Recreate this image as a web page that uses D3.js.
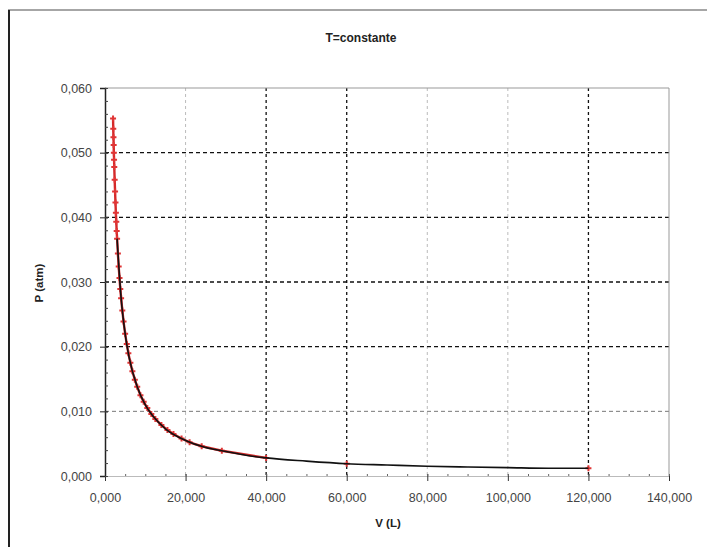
<html>
<script src="https://d3js.org/d3.v7.min.js"></script>
<head>
<style>
  body { margin: 0; background: #fff; }
  text { font-family: "Liberation Sans", Arial, sans-serif; fill: #333; }
</style>
</head>
<body>
<svg id="my_svg" width="707" height="547"></svg>
<script>
  // red series: measured points (V in L, P in atm)
  const volumes = [2000, 2050, 2100, 2150, 2200, 2250, 2300, 2400, 2500, 2600, 2700, 2800, 2900, 3000,
    3200, 3400, 3600, 3800, 4000, 4300, 4600, 5000, 5400, 5800, 6300, 6800, 7400, 8000, 8800,
    9600, 10500, 11500, 12500, 14000, 15500, 17000, 19000, 21000, 24000, 29000, 40000, 60000, 120000]
  const pressures = [0.0553, 0.0537, 0.0524, 0.0512, 0.0500, 0.0489, 0.0478, 0.0458, 0.0440, 0.0423, 0.0407,
    0.0393, 0.0379, 0.0367, 0.0344, 0.0324, 0.0306, 0.0289, 0.0275, 0.0256, 0.0239, 0.0220, 0.0204,
    0.0190, 0.0175, 0.0162, 0.0149, 0.0138, 0.0125, 0.0115, 0.0105, 0.0096, 0.0088, 0.0079, 0.0071,
    0.0065, 0.0058, 0.0052, 0.0046, 0.0039, 0.0028, 0.0019, 0.0012]

  // black series: fitted line
  const fitV = [3000, 4000, 5000, 6000, 8000, 10000, 12000, 15000, 20000, 25000, 30000, 35000, 40000,
    50000, 60000, 70000, 80000, 90000, 100000, 110000, 120000]
  const fitP = [0.0367, 0.0275, 0.0220, 0.0183, 0.0138, 0.0110, 0.0092, 0.0073, 0.0055, 0.0044, 0.0038,
    0.0032, 0.0028, 0.0023, 0.0019, 0.0017, 0.0015, 0.0014, 0.0013, 0.0012, 0.0012]

  const xTicks = [0, 20000, 40000, 60000, 80000, 100000, 120000, 140000]
  const yTicks = [0, 0.01, 0.02, 0.03, 0.04, 0.05, 0.06]
  const darkVGrid = [40000, 60000, 120000]
  const darkHGrid = [0.02, 0.03, 0.04, 0.05]

  const svg = d3.select("#my_svg")
  const pLeft = 105, pRight = 669, pTop = 88, pBottom = 476

  const xs = d3.scaleLinear().domain([0, 140000]).range([pLeft, pRight])
  const ys = d3.scaleLinear().domain([0, 0.06]).range([pBottom, pTop])
  const fmt = d => d3.format(".3f")(d).replace(".", ",")
  const fmtX = d => d3.format(".3f")(d / 1000).replace(".", ",")

  // outer frame
  svg.append("line").attr("x1", 8).attr("x2", 707).attr("y1", 10).attr("y2", 10)
    .attr("stroke", "#888").attr("stroke-width", 1.5)
  svg.append("line").attr("x1", 9).attr("x2", 9).attr("y1", 10).attr("y2", 547)
    .attr("stroke", "#222").attr("stroke-width", 2)

  // title
  svg.append("text").attr("x", 361).attr("y", 42).attr("text-anchor", "middle")
    .style("font-size", "12px").style("font-weight", "bold").style("fill", "#222")
    .text("T=constante")

  // grid
  svg.append("g").selectAll("line").data(xTicks.slice(1, -1)).enter().append("line")
    .attr("x1", d => xs(d)).attr("x2", d => xs(d)).attr("y1", pTop).attr("y2", pBottom)
    .attr("stroke", d => darkVGrid.includes(d) ? "#111" : "#bbb")
    .attr("stroke-width", d => darkVGrid.includes(d) ? 1.3 : 1)
    .attr("stroke-dasharray", "3,3")
  svg.append("g").selectAll("line").data(yTicks.slice(1, -1)).enter().append("line")
    .attr("x1", pLeft).attr("x2", pRight).attr("y1", d => ys(d)).attr("y2", d => ys(d))
    .attr("stroke", d => darkHGrid.includes(d) ? "#111" : "#777")
    .attr("stroke-width", d => darkHGrid.includes(d) ? 1.3 : 1)
    .attr("stroke-dasharray", "4,3")

  // plot border (top, right)
  svg.append("line").attr("x1", pLeft).attr("x2", pRight).attr("y1", pTop).attr("y2", pTop).attr("stroke", "#999")
  svg.append("line").attr("x1", pRight).attr("x2", pRight).attr("y1", pTop).attr("y2", pBottom).attr("stroke", "#999")

  // x axis
  const xAxis = svg.append("g").attr("transform", "translate(0," + pBottom + ")")
    .call(d3.axisBottom(xs).tickValues(xTicks).tickFormat(fmtX).tickSize(5).tickPadding(12))
  xAxis.select(".domain").attr("stroke", "#bbb")
  xAxis.selectAll(".tick line").attr("stroke", "#333").attr("y1", -2)
  xAxis.selectAll("text").style("font-size", "12.5px").style("fill", "#444")
  svg.append("g").attr("transform", "translate(0," + pBottom + ")")
    .call(d3.axisTop(xs).ticks(35).tickFormat("").tickSize(2))
    .call(g => g.select(".domain").remove())
    .selectAll("line").attr("stroke", "#666")

  // y axis
  const yAxis = svg.append("g").attr("transform", "translate(" + pLeft + ",0)")
    .call(d3.axisLeft(ys).tickValues(yTicks).tickFormat(fmt).tickSize(5).tickPadding(8))
  yAxis.select(".domain").attr("stroke", "#222").attr("stroke-width", 1.5)
  yAxis.selectAll(".tick line").attr("stroke", "#222").attr("x1", 3)
  yAxis.selectAll("text").style("font-size", "12.5px").style("fill", "#444")
  svg.append("g").attr("transform", "translate(" + pLeft + ",0)")
    .call(d3.axisRight(ys).ticks(30).tickFormat("").tickSize(3))
    .call(g => g.select(".domain").remove())
    .selectAll("line").attr("stroke", "#444")

  // axis titles
  svg.append("text").attr("transform", "translate(43,283) rotate(-90)").attr("text-anchor", "middle")
    .style("font-size", "11.5px").style("font-weight", "bold").style("fill", "#222").text("P (atm)")
  svg.append("text").attr("x", 388).attr("y", 527).attr("text-anchor", "middle")
    .style("font-size", "11.5px").style("font-weight", "bold").style("fill", "#222").text("V (L)")

  // red series (line hidden under the fit beyond 40,000)
  const red = volumes.map((v, i) => [v, pressures[i]])
  const line = d3.line().x(d => xs(d[0])).y(d => ys(d[1]))
  svg.append("path").datum(red.filter(d => d[0] <= 40000)).attr("d", line).attr("fill", "none")
    .attr("stroke", "#d42a2a").attr("stroke-width", 2.4)
  svg.append("g").selectAll("path").data(red).enter().append("path")
    .attr("d", d3.symbol(d3.symbolCross, 20))
    .attr("transform", d => "translate(" + xs(d[0]) + "," + ys(d[1]) + ")")
    .attr("fill", "#e03535")

  // black series
  const black = fitV.map((v, i) => [v, fitP[i]])
  svg.append("path").datum(black).attr("d", d3.line().x(d => xs(d[0])).y(d => ys(d[1])).curve(d3.curveMonotoneX))
    .attr("fill", "none").attr("stroke", "#111").attr("stroke-width", 1.6)
</script>
</body>
</html>
